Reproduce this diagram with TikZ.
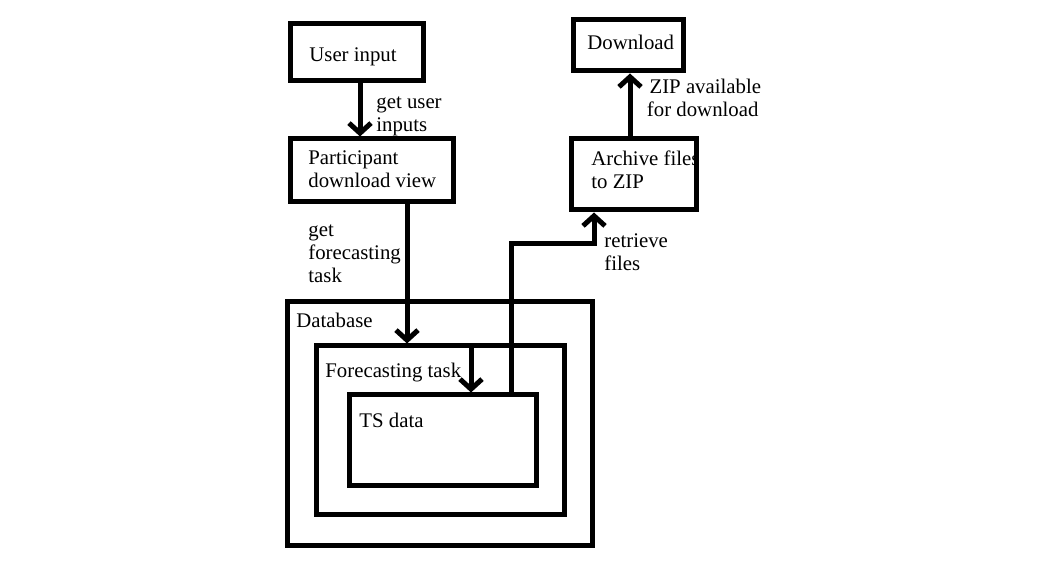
\documentclass[tikz,border=0pt]{standalone}
\usepackage{fontspec}
\setmainfont{Liberation Serif}
\usetikzlibrary{arrows.meta}
\begin{document}
\begin{tikzpicture}[x=0.5pt,y=-0.5pt,
    box/.style={draw,line width=2.5pt,inner sep=0pt},
    txt/.style={anchor=base west,inner sep=0pt,align=left,font=\fontsize{10.4pt}{11.5pt}\selectfont},
    arr/.style={line width=2.5pt,-{Straight Barb[length=5pt,width=11pt,line width=2.5pt]}}]
    \useasboundingbox (0,0) rectangle (1061,571);
    % boxes
    \node [box,minimum width=66.5pt,minimum height=28.5pt] (user) at (356.5,52.5) {};
    \node [box,minimum width=81.5pt,minimum height=31.5pt] (part) at (371.5,170.5) {};
    \node [box,minimum width=152.5pt,minimum height=122pt] (db) at (439.5,424) {};
    \node [box,minimum width=124pt,minimum height=84.5pt] (task) at (440,430.5) {};
    \node [box,minimum width=93.5pt,minimum height=45.5pt] (ts) at (442.5,440.5) {};
    \node [box,minimum width=62.5pt,minimum height=35.5pt] (archive) at (633.5,174.5) {};
    \node [box,minimum width=55pt,minimum height=25.5pt] (down) at (628,45.5) {};
    % texts (base = last line)
    \node [txt] (usertxt) at (309,62) {User input};
    \node [txt] (parttxt) at (308,188) {Participant\\download view};
    \node [txt] (dbtxt) at (296,328) {Database};
    \node [txt] (tasktxt) at (325,378) {Forecasting task};
    \node [txt] (tstxt) at (359,428) {TS data};
    \node [txt] (archivetxt) at (591,189) {Archive files\\to ZIP};
    \node [txt] (downtxt) at (587,50) {Download};
    \node [txt] (getuser) at (376,132) {get user\\inputs};
    \node [txt] (gettask) at (308,283) {get\\forecasting\\task};
    \node [txt] (retrieve) at (604,271) {retrieve\\files};
    \node [txt,align=center] (zip) at (644,117) {\ ZIP available\\for download};
    % arrows
    \draw [arr] ([xshift=1.75pt]user.south) -- ([xshift=1.75pt]user.south |- part.north);
    \draw [arr] ([xshift=17.75pt]part.south) -- ([xshift=17.75pt]part.south |- task.north);
    \draw [arr] ([xshift=15.5pt]task.north) -- ([xshift=15.5pt]task.north |- ts.north);
    \draw [arr] ([xshift=34.25pt]ts.north) |- ([xshift=-19.75pt,yshift=-15.75pt]archive.south)
        -- ([xshift=-19.75pt]archive.south);
    \draw [arr] ([xshift=-1.75pt]archive.north) -- ([xshift=-1.75pt]archive.north |- down.south);
\end{tikzpicture}
\end{document}
